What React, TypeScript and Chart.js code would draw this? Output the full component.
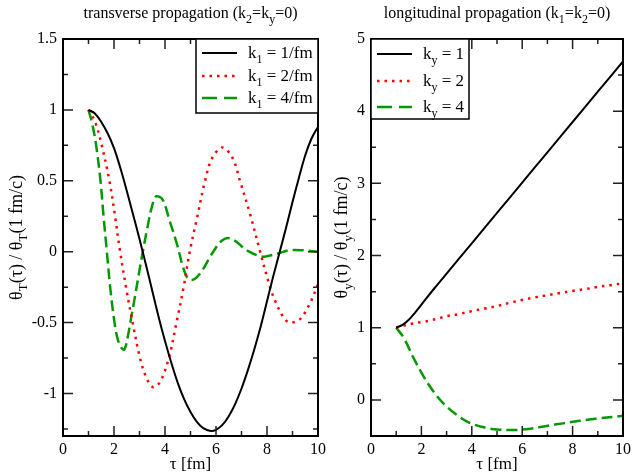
import React, { useEffect, useRef } from "react";
import { Chart, registerables } from "chart.js";
Chart.register(...registerables);

const FONT = "'Liberation Serif','Times New Roman',serif";

// ---------- Left panel: transverse propagation ----------
const tauT1 = [1, 1.25, 1.5, 1.75, 2.0, 2.25, 2.5, 2.75, 3.0, 3.25, 3.5, 3.75, 4.0, 4.25, 4.5, 4.75, 5.0, 5.25, 5.5, 5.8, 6.0, 6.25, 6.5, 6.75, 7.0, 7.25, 7.5, 7.75, 8.0, 8.25, 8.5, 8.75, 9.0, 9.25, 9.5, 9.75, 10];
const thetaT1 = [1, 0.975, 0.915, 0.835, 0.73, 0.59, 0.43, 0.26, 0.09, -0.09, -0.275, -0.46, -0.63, -0.785, -0.925, -1.04, -1.13, -1.2, -1.245, -1.265, -1.257, -1.222, -1.16, -1.075, -0.965, -0.835, -0.69, -0.53, -0.35, -0.17, 0, 0.17, 0.35, 0.52, 0.68, 0.8, 0.88];

const tauT2 = [1, 1.25, 1.52, 1.82, 2.04, 2.24, 2.47, 2.73, 3.02, 3.25, 3.52, 3.8, 4.15, 4.45, 4.73, 4.97, 5.27, 5.57, 5.85, 6.25, 6.65, 6.94, 7.36, 7.73, 8.12, 8.35, 8.67, 8.9, 9.23, 9.45, 9.61, 9.75, 10];
const thetaT2 = [1, 0.92, 0.75, 0.5, 0.25, 0, -0.25, -0.5, -0.75, -0.88, -0.955, -0.92, -0.75, -0.5, -0.25, 0, 0.25, 0.5, 0.66, 0.735, 0.66, 0.5, 0.25, 0, -0.25, -0.36, -0.47, -0.5, -0.485, -0.44, -0.39, -0.34, -0.23];

const tauT4 = [1, 1.15, 1.3, 1.47, 1.59, 1.72, 1.85, 2.02, 2.15, 2.3, 2.41, 2.54, 2.67, 2.8, 3.0, 3.13, 3.32, 3.49, 3.65, 3.91, 4.17, 4.49, 4.69, 4.88, 5.05, 5.22, 5.48, 5.74, 6.0, 6.2, 6.46, 6.78, 7.05, 7.3, 7.6, 7.9, 8.48, 8.87, 9.4, 10];
const thetaT4 = [1, 0.9, 0.75, 0.5, 0.25, 0, -0.25, -0.5, -0.62, -0.68, -0.69, -0.6, -0.47, -0.34, -0.13, 0, 0.18, 0.32, 0.39, 0.366, 0.225, 0.04, -0.1, -0.185, -0.2, -0.185, -0.127, -0.045, 0.03, 0.073, 0.096, 0.073, 0.03, 0.0, -0.025, -0.035, -0.01, 0.01, 0.01, 0.0];

// ---------- Right panel: longitudinal propagation ----------
const tauL1 = [1, 1.25, 1.5, 1.75, 2.0, 2.5, 3, 4, 5, 6, 7, 8, 9, 10];
const thetaL1 = [1, 1.04, 1.11, 1.21, 1.32, 1.54, 1.75, 2.17, 2.59, 3.01, 3.43, 3.85, 4.27, 4.69];

const tauL2 = [1, 1.3, 1.69, 2.02, 2.35, 2.68, 3.0, 3.5, 4.0, 4.5, 5.0, 5.5, 6.0, 6.5, 7.0, 7.5, 8.0, 8.5, 9.0, 9.5, 10];
const thetaL2 = [1, 1.03, 1.06, 1.08, 1.1, 1.13, 1.16, 1.19, 1.23, 1.265, 1.3, 1.345, 1.385, 1.42, 1.45, 1.48, 1.51, 1.535, 1.565, 1.59, 1.615];

const tauL4 = [1, 1.3, 1.69, 2.08, 2.47, 2.85, 3.37, 3.89, 4.54, 5.02, 5.6, 6.32, 6.97, 7.62, 8.28, 8.93, 10];
const thetaL4 = [1, 0.86, 0.58, 0.33, 0.12, -0.04, -0.2, -0.315, -0.385, -0.41, -0.418, -0.4, -0.36, -0.325, -0.29, -0.26, -0.22];

// ---------- Ticks ----------
const xMajorTicks = [0, 2, 4, 6, 8, 10];
const xMinorTicks = [1, 3, 5, 7, 9];
const yMajorT = [-1, -0.5, 0, 0.5, 1, 1.5];
const yMinorT = [-1.25, -0.75, -0.25, 0.25, 0.75, 1.25];
const yMajorL = [0, 1, 2, 3, 4, 5];
const yMinorL = [0.5, 1.5, 2.5, 3.5, 4.5];

type Seg = { t: string; sub?: boolean };

const BLACK = "#000000";
const RED = "#ff0000";
const GREEN = "#009a00";

const STYLES = [
  { color: BLACK, width: 2, dash: [] as number[] },
  { color: RED, width: 2.5, dash: [2.5, 5] },
  { color: GREEN, width: 2.5, dash: [11, 5] },
];

function richWidth(ctx: CanvasRenderingContext2D, segs: Seg[], size: number) {
  let w = 0;
  for (const s of segs) {
    ctx.font = `${s.sub ? Math.round(size * 0.72) : size}px ${FONT}`;
    w += ctx.measureText(s.t).width;
  }
  return w;
}

function drawRich(ctx: CanvasRenderingContext2D, segs: Seg[], x: number, y: number, size: number, align: "left" | "center") {
  const w = richWidth(ctx, segs, size);
  let cx = align === "center" ? x - w / 2 : x;
  ctx.textAlign = "left";
  ctx.textBaseline = "alphabetic";
  ctx.fillStyle = "#000";
  for (const s of segs) {
    ctx.font = `${s.sub ? Math.round(size * 0.72) : size}px ${FONT}`;
    ctx.fillText(s.t, cx, s.sub ? y + size * 0.3 : y);
    cx += ctx.measureText(s.t).width;
  }
}

type PanelCfg = {
  title: Seg[];
  ylabel: Seg[];
  ylabelX: number;
  yMajor: number[];
  yMinor: number[];
  legend: Seg[][];
  legendSide: "left" | "right";
  legendW: number;
  legendH: number;
  legendRows: number[];
  legendSample: [number, number];
  legendTextX: number;
};

function makePlugin(cfg: PanelCfg) {
  return {
    id: "xmg",
    afterDatasetsDraw(chart: any) {
      const ctx: CanvasRenderingContext2D = chart.ctx;
      const { left, right, top, bottom } = chart.chartArea;
      const xs = chart.scales.x;
      const ys = chart.scales.y;
      ctx.save();
      // ticks
      ctx.strokeStyle = "#222";
      ctx.lineWidth = 1.5;
      ctx.beginPath();
      const tick = (v: number, len: number) => {
        const p = xs.getPixelForValue(v);
        ctx.moveTo(p, bottom);
        ctx.lineTo(p, bottom - len);
        ctx.moveTo(p, top);
        ctx.lineTo(p, top + len);
      };
      const ytick = (v: number, len: number) => {
        const p = ys.getPixelForValue(v);
        ctx.moveTo(left, p);
        ctx.lineTo(left + len, p);
        ctx.moveTo(right, p);
        ctx.lineTo(right - len, p);
      };
      xMajorTicks.forEach((v) => tick(v, 10));
      xMinorTicks.forEach((v) => tick(v, 5));
      cfg.yMajor.forEach((v) => ytick(v, 10));
      cfg.yMinor.forEach((v) => ytick(v, 5));
      ctx.stroke();
      // frame
      ctx.strokeStyle = "#000";
      ctx.lineWidth = 2;
      ctx.strokeRect(left, top, right - left, bottom - top);

      // legend
      const lx = cfg.legendSide === "right" ? right - cfg.legendW : left;
      ctx.fillStyle = "#fff";
      ctx.fillRect(lx, top, cfg.legendW, cfg.legendH);
      ctx.strokeStyle = "#000";
      ctx.lineWidth = 1.5;
      ctx.strokeRect(lx, top, cfg.legendW, cfg.legendH);
      cfg.legend.forEach((segs, i) => {
        const st = STYLES[i];
        const ry = top + cfg.legendRows[i];
        ctx.beginPath();
        ctx.strokeStyle = st.color;
        ctx.lineWidth = st.width;
        ctx.setLineDash(i === 2 ? [15, 7] : st.dash);
        ctx.moveTo(lx + cfg.legendSample[0], ry);
        ctx.lineTo(lx + cfg.legendSample[1], ry);
        ctx.stroke();
        ctx.setLineDash([]);
        drawRich(ctx, segs, lx + cfg.legendTextX, ry + 5, 17, "left");
      });

      // titles
      const cxp = (left + right) / 2;
      drawRich(ctx, cfg.title, cxp, 18, 16, "center");
      drawRich(ctx, [{ t: "τ [fm]" }], cxp, 469, 17, "center");
      ctx.save();
      ctx.translate(cfg.ylabelX, (top + bottom) / 2);
      ctx.rotate(-Math.PI / 2);
      drawRich(ctx, cfg.ylabel, 0, 0, 18, "center");
      ctx.restore();
      ctx.restore();
    },
  };
}

function pts(xs: number[], ys: number[]) {
  return xs.map((x, i) => ({ x, y: ys[i] }));
}

function buildConfig(series: { x: number[]; y: number[] }[], yMin: number, yMax: number, yTicks: number[], axisW: number, padRight: number, cfg: PanelCfg): any {
  return {
    type: "line",
    data: {
      datasets: series.map((s, i) => ({
        data: pts(s.x, s.y),
        borderColor: STYLES[i].color,
        borderWidth: STYLES[i].width,
        borderDash: STYLES[i].dash,
        borderCapStyle: "butt",
        pointRadius: 0,
        fill: false,
        tension: 0.35,
      })),
    },
    options: {
      animation: false,
      responsive: false,
      events: [],
      layout: { padding: { left: 0, right: padRight, top: 39, bottom: 0 } },
      plugins: { legend: { display: false }, tooltip: { enabled: false } },
      scales: {
        x: {
          type: "linear",
          min: 0,
          max: 10,
          grid: { display: false, drawTicks: false },
          border: { display: false },
          ticks: { font: { family: FONT, size: 16 }, color: "#000", padding: 4, autoSkip: false, maxRotation: 0, callback: (v: number) => String(v) },
          afterBuildTicks: (a: any) => {
            a.ticks = xMajorTicks.map((v) => ({ value: v }));
          },
          afterFit: (a: any) => {
            a.height = 37;
          },
        },
        y: {
          type: "linear",
          min: yMin,
          max: yMax,
          grid: { display: false, drawTicks: false },
          border: { display: false },
          ticks: { font: { family: FONT, size: 16 }, color: "#000", padding: 6, autoSkip: false, callback: (v: number) => String(v) },
          afterBuildTicks: (a: any) => {
            a.ticks = yTicks.map((v) => ({ value: v }));
          },
          afterFit: (a: any) => {
            a.width = axisW;
          },
        },
      },
    },
    plugins: [makePlugin(cfg)],
  };
}

const leftCfg: PanelCfg = {
  title: [{ t: "transverse propagation (k" }, { t: "2", sub: true }, { t: "=k" }, { t: "y", sub: true }, { t: "=0)" }],
  ylabel: [{ t: "θ" }, { t: "T", sub: true }, { t: "(τ) / θ" }, { t: "T", sub: true }, { t: "(1 fm/c)" }],
  ylabelX: 22,
  yMajor: yMajorT,
  yMinor: yMinorT,
  legend: [
    [{ t: "k" }, { t: "1", sub: true }, { t: " = 1/fm" }],
    [{ t: "k" }, { t: "1", sub: true }, { t: " = 2/fm" }],
    [{ t: "k" }, { t: "1", sub: true }, { t: " = 4/fm" }],
  ],
  legendSide: "right",
  legendW: 122,
  legendH: 74,
  legendRows: [14, 37, 59],
  legendSample: [6, 41],
  legendTextX: 52,
};

const rightCfg: PanelCfg = {
  title: [{ t: "longitudinal propagation (k" }, { t: "1", sub: true }, { t: "=k" }, { t: "2", sub: true }, { t: "=0)" }],
  ylabel: [{ t: "θ" }, { t: "y", sub: true }, { t: "(τ) / θ" }, { t: "y", sub: true }, { t: "(1 fm/c)" }],
  ylabelX: 17,
  yMajor: yMajorL,
  yMinor: yMinorL,
  legend: [
    [{ t: "k" }, { t: "y", sub: true }, { t: " = 1" }],
    [{ t: "k" }, { t: "y", sub: true }, { t: " = 2" }],
    [{ t: "k" }, { t: "y", sub: true }, { t: " = 4" }],
  ],
  legendSide: "left",
  legendW: 98,
  legendH: 80,
  legendRows: [15, 42, 68],
  legendSample: [6, 41],
  legendTextX: 52,
};

function Panel(props: { width: number; left: number; config: () => any }) {
  const ref = useRef<HTMLCanvasElement>(null);
  useEffect(() => {
    const chart = new Chart(ref.current as HTMLCanvasElement, props.config());
    return () => chart.destroy();
  }, []);
  return (
    <div style={{ position: "absolute", left: props.left, top: 0, width: props.width, height: 473 }}>
      <canvas ref={ref} width={props.width} height={473} style={{ display: "block" }} />
    </div>
  );
}

export default function App() {
  return (
    <div style={{ position: "absolute", left: 0, top: 0, width: 635, height: 473, background: "#fff", overflow: "hidden" }}>
      <Panel
        width={330}
        left={0}
        config={() =>
          buildConfig(
            [
              { x: tauT1, y: thetaT1 },
              { x: tauT2, y: thetaT2 },
              { x: tauT4, y: thetaT4 },
            ],
            -1.3,
            1.5,
            yMajorT,
            63,
            11,
            leftCfg
          )
        }
      />
      <Panel
        width={305}
        left={330}
        config={() =>
          buildConfig(
            [
              { x: tauL1, y: thetaL1 },
              { x: tauL2, y: thetaL2 },
              { x: tauL4, y: thetaL4 },
            ],
            -0.5,
            5,
            yMajorL,
            41,
            7,
            rightCfg
          )
        }
      />
    </div>
  );
}
